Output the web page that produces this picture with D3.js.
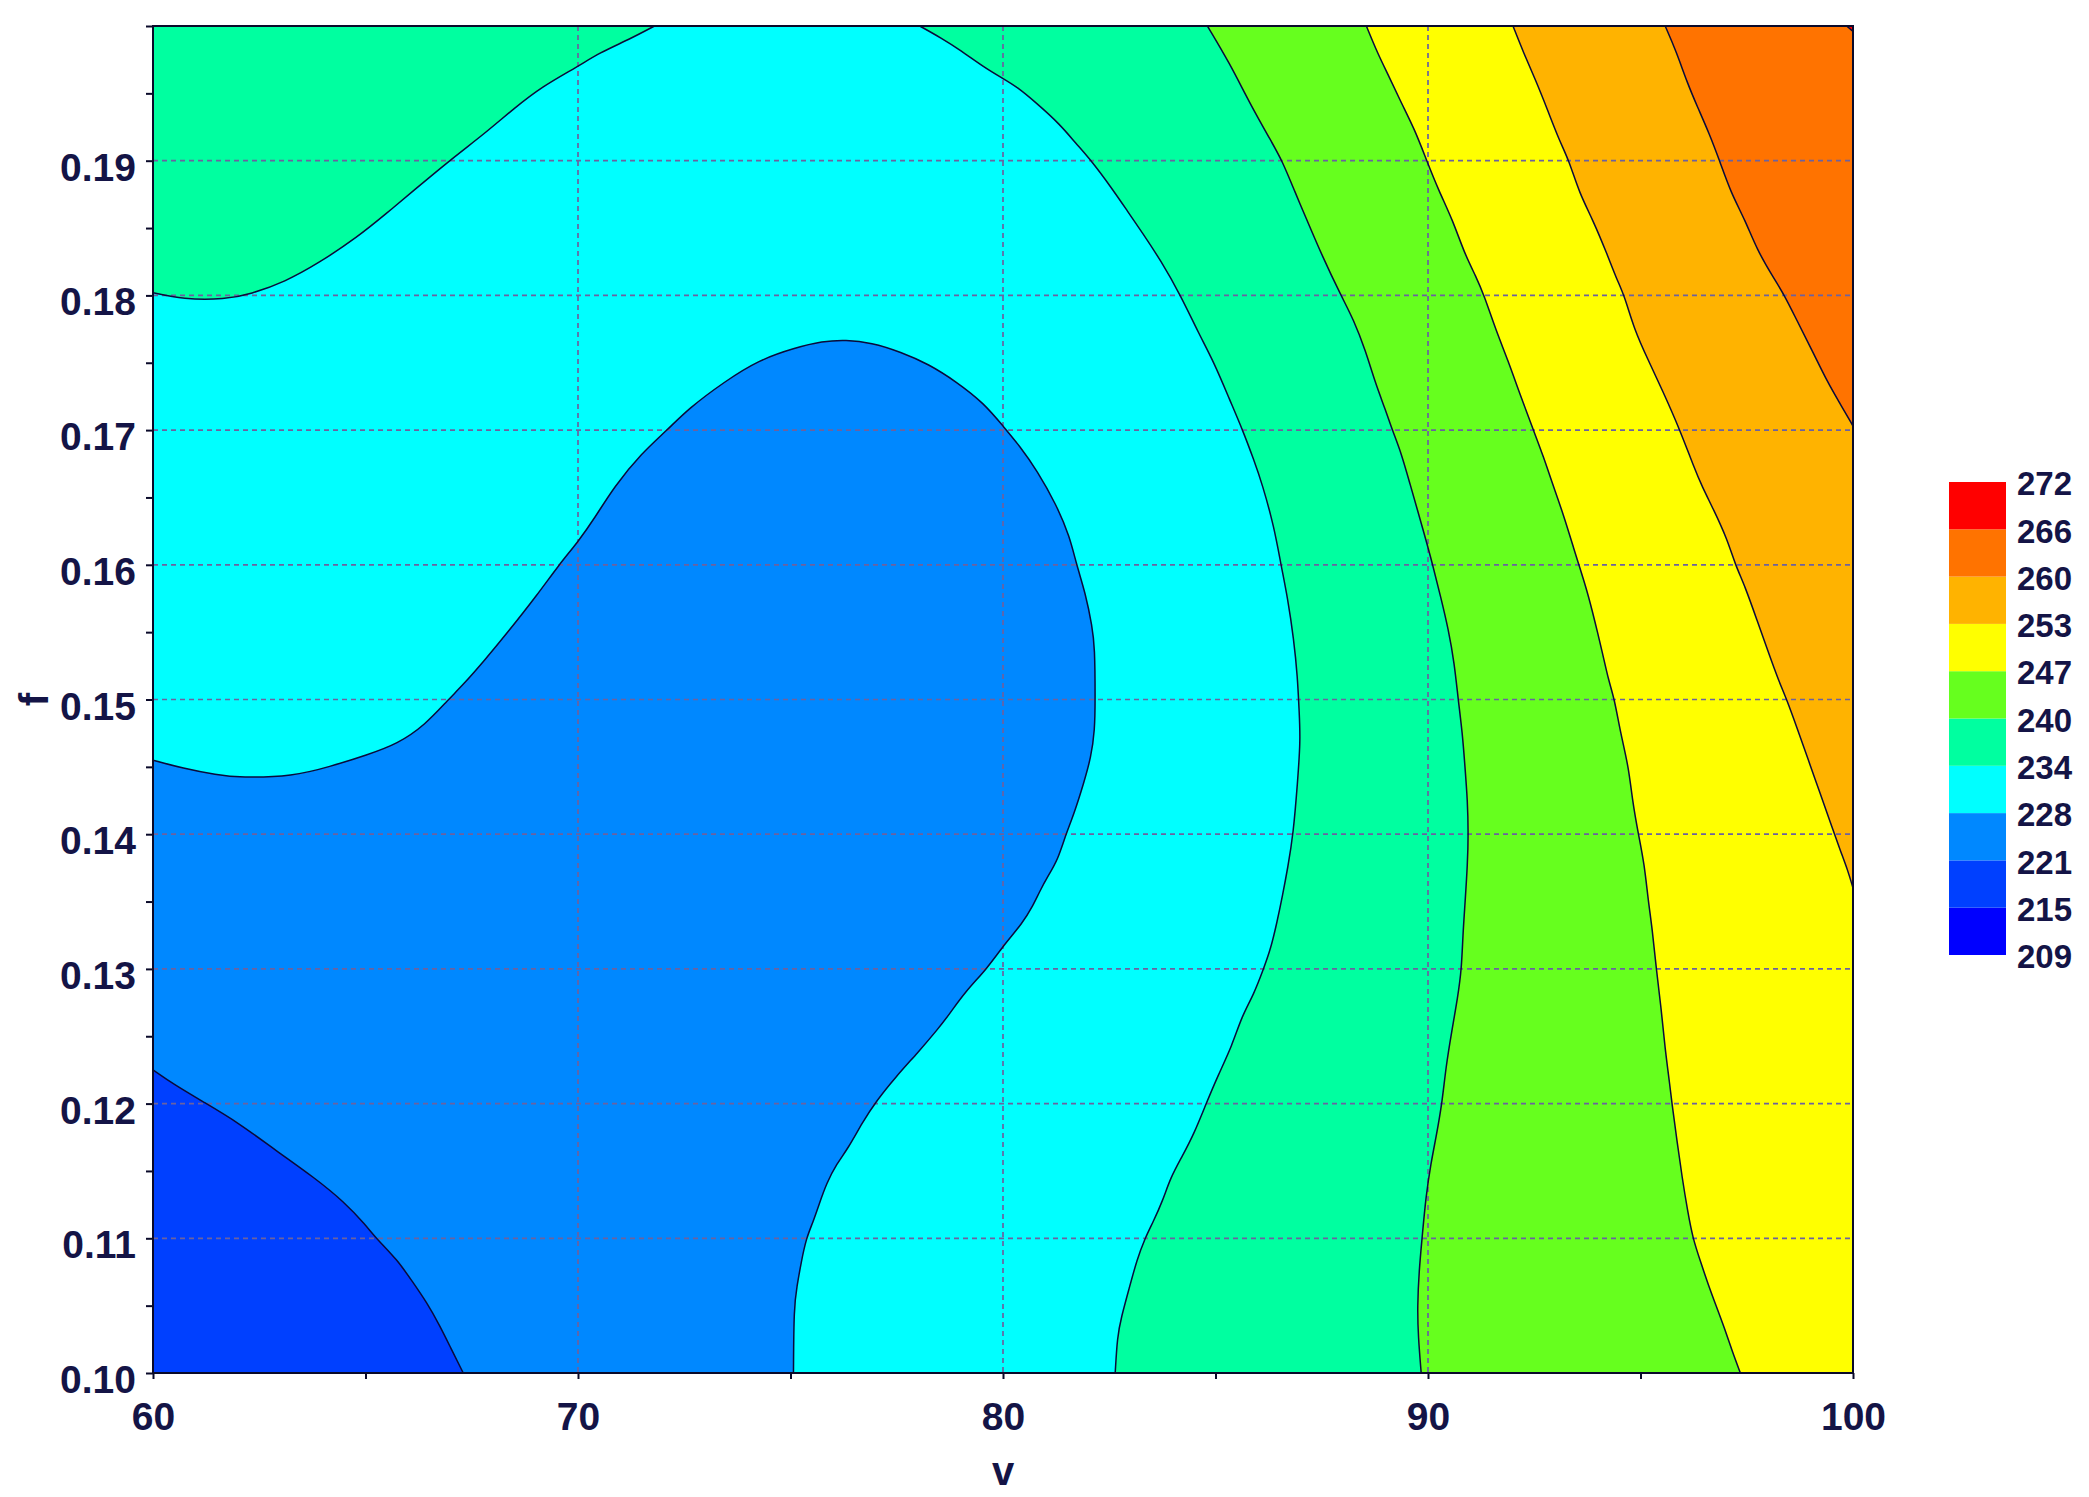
<!DOCTYPE html>
<html>
<head>
<meta charset="utf-8">
<script src="https://cdn.jsdelivr.net/npm/d3@7"></script>
<style>
    body { margin: 0; background: #fff; }
    text { font-family: "Liberation Sans", Arial, sans-serif; font-weight: bold; fill: #141446; }
</style>
</head>
<body>
<svg id="chart" width="2089" height="1497"></svg>
<script>

// axis ticks
const vTicks = [60, 70, 80, 90, 100];
const fTicks = [0.10, 0.11, 0.12, 0.13, 0.14, 0.15, 0.16, 0.17, 0.18, 0.19];

// contour levels (legend labels) and band colours between them
const levels = [209, 215, 221, 228, 234, 240, 247, 253, 260, 266, 272];
const bandColors = ["#0000FF", "#0040FF", "#0088FF", "#00FFFF", "#00FFA0",
                    "#66FF1E", "#FFFF00", "#FFB300", "#FF7300", "#FF0000"];

// contour lines, [v, f]
const contour221 = [[60, 0.1225], [60.5, 0.1214], [61.2, 0.1201], [62.0, 0.1186], [62.9, 0.1165],
    [63.8, 0.1145], [64.5, 0.1127], [65.0, 0.1110], [65.25, 0.110], [65.75, 0.1084], [66.1, 0.1068],
    [66.45, 0.1052], [66.75, 0.1035], [67.0, 0.1019], [67.3, 0.100]];

const contour228 = [[60, 0.1455], [60.7, 0.1449], [61.5, 0.1444], [62.05, 0.1442], [63.3, 0.1443],
    [64.15, 0.1450], [65.05, 0.1459], [65.75, 0.1467], [66.4, 0.1481], [66.95, 0.150], [67.3, 0.1511],
    [67.8, 0.1529], [68.35, 0.1550], [69.05, 0.1578], [69.55, 0.160], [70, 0.1617], [70.4, 0.1635],
    [70.85, 0.1658], [71.5, 0.1683], [72.1, 0.170], [72.6, 0.1716], [73.45, 0.1736], [74.25, 0.1752],
    [75.1, 0.1761], [75.75, 0.1766], [76.3, 0.1767], [76.9, 0.1765], [77.6, 0.1758], [78.25, 0.1749],
    [78.9, 0.1736], [79.55, 0.1720], [80.0, 0.1703], [80.4, 0.1688], [80.8, 0.1670], [81.25, 0.1645],
    [81.57, 0.1621], [81.73, 0.160], [81.94, 0.1579], [82.1, 0.1554], [82.16, 0.1539], [82.17, 0.150],
    [82.16, 0.1477], [82.07, 0.1457], [81.9, 0.1438], [81.67, 0.1415], [81.48, 0.140], [81.29, 0.1381],
    [81.06, 0.1369], [80.87, 0.1358], [80.69, 0.1346], [80.46, 0.1334], [80.0, 0.1317], [79.62, 0.130],
    [79.11, 0.1283], [78.73, 0.1266], [78.46, 0.1255], [78.0, 0.1238], [77.48, 0.1220], [77.02, 0.1202],
    [76.69, 0.1186], [76.36, 0.1167], [76.08, 0.1155], [75.85, 0.1141], [75.67, 0.1125], [75.53, 0.1112],
    [75.37, 0.110], [75.25, 0.1082], [75.15, 0.1064], [75.08, 0.1049], [75.07, 0.100]];

const contour234a = [[60, 0.1802], [60.7, 0.1797], [61.7, 0.1797], [62.3, 0.1801], [63.1, 0.1810],
    [63.9, 0.1824], [64.8, 0.1843], [65.5, 0.1861], [66.1, 0.1877], [67.05, 0.1902], [67.8, 0.1920],
    [68.5, 0.1939], [69.15, 0.1955], [70, 0.1970], [70.5, 0.1980], [71.2, 0.1990], [71.8, 0.200]];

const contour234b = [[78.04, 0.200], [78.55, 0.1991], [79.0, 0.1982], [79.57, 0.1969], [80, 0.1961],
    [80.32, 0.1955], [80.78, 0.1943], [81.34, 0.1927], [81.71, 0.1913], [82.08, 0.190], [82.55, 0.1880],
    [82.92, 0.1863], [83.29, 0.1846], [83.71, 0.1826], [84.18, 0.180], [84.6, 0.1772], [84.97, 0.1750],
    [85.34, 0.1722], [85.64, 0.170], [85.9, 0.1678], [86.1, 0.1660], [86.38, 0.1628], [86.54, 0.160],
    [86.7, 0.1575], [86.84, 0.1545], [86.93, 0.1517], [86.97, 0.149], [87.0, 0.147], [86.93, 0.1438],
    [86.83, 0.140], [86.7, 0.1375], [86.58, 0.1355], [86.45, 0.1335], [86.3, 0.1315], [86.13, 0.130],
    [85.9, 0.1281], [85.62, 0.1265], [85.39, 0.1243], [85.06, 0.1221], [84.78, 0.120], [84.5, 0.1178],
    [84.22, 0.1161], [83.94, 0.1145], [83.76, 0.1128], [83.53, 0.1112], [83.34, 0.110], [83.15, 0.1084],
    [82.97, 0.1063], [82.78, 0.1041], [82.69, 0.1027], [82.64, 0.100]];

const contour240 = [[84.81, 0.200], [85.34, 0.1972], [85.8, 0.1943], [86.3, 0.1915], [86.57, 0.190],
    [86.88, 0.1876], [87.15, 0.1856], [87.5, 0.1830], [87.95, 0.180], [88.25, 0.1782], [88.53, 0.1759],
    [88.76, 0.1735], [89.0, 0.1715], [89.16, 0.170], [89.37, 0.1683], [89.55, 0.1663], [89.93, 0.1621],
    [90.11, 0.160], [90.3, 0.1576], [90.48, 0.1552], [90.62, 0.1527], [90.71, 0.150], [90.81, 0.1475],
    [90.87, 0.145], [90.93, 0.1425], [90.95, 0.140], [90.93, 0.1378], [90.87, 0.1348], [90.82, 0.1325],
    [90.79, 0.130], [90.7, 0.1279], [90.56, 0.1254], [90.42, 0.1227], [90.33, 0.120], [90.19, 0.1175],
    [90.07, 0.1156], [89.95, 0.1131], [89.86, 0.110], [89.79, 0.1076], [89.75, 0.1049], [89.77, 0.1027],
    [89.84, 0.100]];

const contour247 = [[88.55, 0.200], [88.81, 0.198], [89.09, 0.1962], [89.37, 0.1943], [89.69, 0.1923],
    [89.97, 0.190], [90.25, 0.1878], [90.58, 0.1856], [90.86, 0.1831], [91.13, 0.1814], [91.32, 0.180],
    [91.6, 0.1774], [91.88, 0.1752], [92.16, 0.1727], [92.48, 0.170], [92.72, 0.168], [92.92, 0.1661],
    [93.18, 0.1638], [93.46, 0.1609], [93.55, 0.160], [93.74, 0.1581], [93.92, 0.1559], [94.11, 0.1534],
    [94.25, 0.1514], [94.39, 0.150], [94.53, 0.1475], [94.72, 0.145], [94.81, 0.1425], [94.95, 0.140],
    [95.09, 0.1378], [95.18, 0.1351], [95.28, 0.1329], [95.37, 0.130], [95.49, 0.127], [95.58, 0.124],
    [95.67, 0.1219], [95.74, 0.120], [95.86, 0.1172], [95.98, 0.1145], [96.11, 0.112], [96.23, 0.110],
    [96.42, 0.1082], [96.6, 0.1065], [96.79, 0.1049], [96.98, 0.1033], [97.16, 0.1016], [97.35, 0.100]];

const contour253 = [[92.0, 0.200], [92.25, 0.198], [92.53, 0.196], [92.81, 0.1938], [93.09, 0.1915],
    [93.32, 0.190], [93.56, 0.1876], [93.88, 0.1856], [94.21, 0.1831], [94.44, 0.1812], [94.62, 0.180],
    [94.86, 0.1774], [95.18, 0.1752], [95.51, 0.173], [95.93, 0.170], [96.25, 0.1673], [96.45, 0.1658],
    [96.72, 0.1641], [97.04, 0.1619], [97.23, 0.160], [97.46, 0.1584], [97.74, 0.1559], [98.02, 0.1534],
    [98.25, 0.1514], [98.44, 0.150], [98.67, 0.148], [98.95, 0.1455], [99.23, 0.143], [99.51, 0.1405],
    [99.7, 0.1388], [99.88, 0.1373], [100, 0.136]];

const contour260 = [[95.58, 0.200], [95.83, 0.1982], [96.11, 0.1957], [96.34, 0.194], [96.62, 0.192],
    [96.86, 0.190], [97.13, 0.1876], [97.46, 0.1856], [97.74, 0.1834], [98.11, 0.1814], [98.39, 0.180],
    [98.67, 0.1782], [99.04, 0.1759], [99.41, 0.1735], [99.69, 0.172], [100, 0.1703]];

const contour266 = [[99.85, 0.200], [100, 0.1996]];


class ContourPlot {

    constructor() {

        this.margin = { top: 26, left: 153 };
        this.width = 1700;
        this.height = 1347;

        this.x = d3.scaleLinear().domain([60, 100]).range([0, this.width]);
        this.y = d3.scaleLinear().domain([0.10, 0.20]).range([this.height, 0]);

        // B-spline evens out the small reading errors in the traced points
        this.line = d3.line()
        .x(d => this.x(d[0]))
        .y(d => this.y(d[1]))
        .curve(d3.curveBasis);

        this.svg = d3.select("#chart");

        this.g = this.svg.append("g")
        .attr("transform", `translate(${this.margin.left},${this.margin.top})`);

        this.svg.append("defs").append("clipPath").attr("id", "plot-clip")
        .append("rect")
        .attr("width", this.width)
        .attr("height", this.height);

        this.drawBands();
        this.drawGrid();
        this.drawLines();
        this.drawAxes();
        this.drawLegend();
    }

    corner(name) {
        let [x0, x1] = this.x.domain();
        let [y0, y1] = this.y.domain();
        let p = { br: [x1, y0], tr: [x1, y1], tl: [x0, y1], bl: [x0, y0] }[name];
        return `L${this.x(p[0])},${this.y(p[1])}`;
    }

    drawBands() {

        /*
        |--------------------------------------------------------------------------
        | Regions above each level, painted from low to high
        |--------------------------------------------------------------------------
        */

        let regions = [
            { level: 221, line: contour221, corners: ["br", "tr", "tl"] },
            { level: 228, line: contour228, corners: ["br", "tr", "tl"] },
            { level: 234, line: contour234a, corners: ["tl"] },
            { level: 234, line: contour234b, corners: ["br", "tr"] },
            { level: 240, line: contour240, corners: ["br", "tr"] },
            { level: 247, line: contour247, corners: ["br", "tr"] },
            { level: 253, line: contour253, corners: ["tr"] },
            { level: 260, line: contour260, corners: ["tr"] },
            { level: 266, line: contour266, corners: ["tr"] }
        ];

        let bands = this.g.append("g").attr("clip-path", "url(#plot-clip)");

        bands.append("rect")
        .attr("width", this.width)
        .attr("height", this.height)
        .attr("fill", bandColors[levels.indexOf(215)]);

        bands.selectAll("path")
        .data(regions)
        .enter()
        .append("path")
        .attr("d", r => this.line(r.line) + r.corners.map(c => this.corner(c)).join("") + "Z")
        .attr("fill", r => bandColors[levels.indexOf(r.level)]);
    }

    drawGrid() {

        let grid = this.g.append("g")
        .attr("stroke", "#6c62a0")
        .attr("stroke-width", 1.7)
        .attr("stroke-dasharray", "5,4");

        grid.selectAll(".hgrid")
        .data(fTicks.filter(f => f > 0.10))
        .enter()
        .append("line")
        .attr("x1", 0)
        .attr("x2", this.width)
        .attr("y1", d => this.y(d))
        .attr("y2", d => this.y(d));

        grid.selectAll(".vgrid")
        .data(vTicks.filter(v => v > 60 && v < 100))
        .enter()
        .append("line")
        .attr("x1", d => this.x(d))
        .attr("x2", d => this.x(d))
        .attr("y1", 0)
        .attr("y2", this.height);
    }

    drawLines() {

        this.g.append("g")
        .attr("clip-path", "url(#plot-clip)")
        .selectAll("path")
        .data([contour221, contour228, contour234a, contour234b, contour240,
               contour247, contour253, contour260, contour266])
        .enter()
        .append("path")
        .attr("d", this.line)
        .attr("fill", "none")
        .attr("stroke", "#0a0a3a")
        .attr("stroke-width", 1.5);
    }

    drawAxes() {

        let fmt = d3.format(".2f");

        /*
        |--------------------------------------------------------------------------
        | Y axis : f
        |--------------------------------------------------------------------------
        */

        let yAxis = this.g.append("g")
        .call(d3.axisLeft(this.y)
            .tickValues(d3.range(0.10, 0.2001, 0.005))
            .tickSize(7)
            .tickSizeOuter(0)
            .tickPadding(10)
            .tickFormat(d => fTicks.some(t => Math.abs(t - d) < 1e-6) ? fmt(d) : ""));

        yAxis.selectAll("text")
        .attr("dy", "0.5em")
        .style("font-size", "39px");

        /*
        |--------------------------------------------------------------------------
        | X axis : v
        |--------------------------------------------------------------------------
        */

        let xAxis = this.g.append("g")
        .attr("transform", `translate(0,${this.height})`)
        .call(d3.axisBottom(this.x)
            .tickValues(d3.range(60, 100.1, 5))
            .tickSize(6)
            .tickSizeOuter(0)
            .tickPadding(23)
            .tickFormat(d => vTicks.includes(d) ? d : ""));

        xAxis.selectAll("text")
        .style("font-size", "39px");

        [yAxis, xAxis].forEach(a => {
            a.selectAll("line, path").attr("stroke", "#0a0a2a").attr("stroke-width", 2);
            a.select(".domain").remove();
            a.selectAll("text").attr("fill", "#141446").attr("font-family", null);
        });

        // plot frame
        this.g.append("rect")
        .attr("width", this.width)
        .attr("height", this.height)
        .attr("fill", "none")
        .attr("stroke", "#0a0a2a")
        .attr("stroke-width", 2);

        this.g.append("text")
        .attr("x", this.width / 2)
        .attr("y", this.height + 112)
        .attr("text-anchor", "middle")
        .style("font-size", "40px")
        .text("v");

        this.svg.append("text")
        .attr("transform", `translate(48,${this.margin.top + this.height / 2}) rotate(-90)`)
        .attr("text-anchor", "middle")
        .style("font-size", "40px")
        .text("f");
    }

    drawLegend() {

        let ly = d3.scaleLinear().domain([0, levels.length - 1]).range([955, 482]);

        let legend = this.svg.append("g").attr("transform", "translate(1949,0)");

        legend.selectAll("rect")
        .data(bandColors)
        .enter()
        .append("rect")
        .attr("x", 0)
        .attr("y", (d, i) => ly(i + 1))
        .attr("width", 57)
        .attr("height", (d, i) => ly(i) - ly(i + 1))
        .attr("fill", d => d);

        legend.selectAll("text")
        .data(levels)
        .enter()
        .append("text")
        .attr("x", 68)
        .attr("y", (d, i) => ly(i))
        .attr("dy", "0.4em")
        .style("font-size", "33px")
        .text(d => d);
    }
}

new ContourPlot();

</script>
</body>
</html>
